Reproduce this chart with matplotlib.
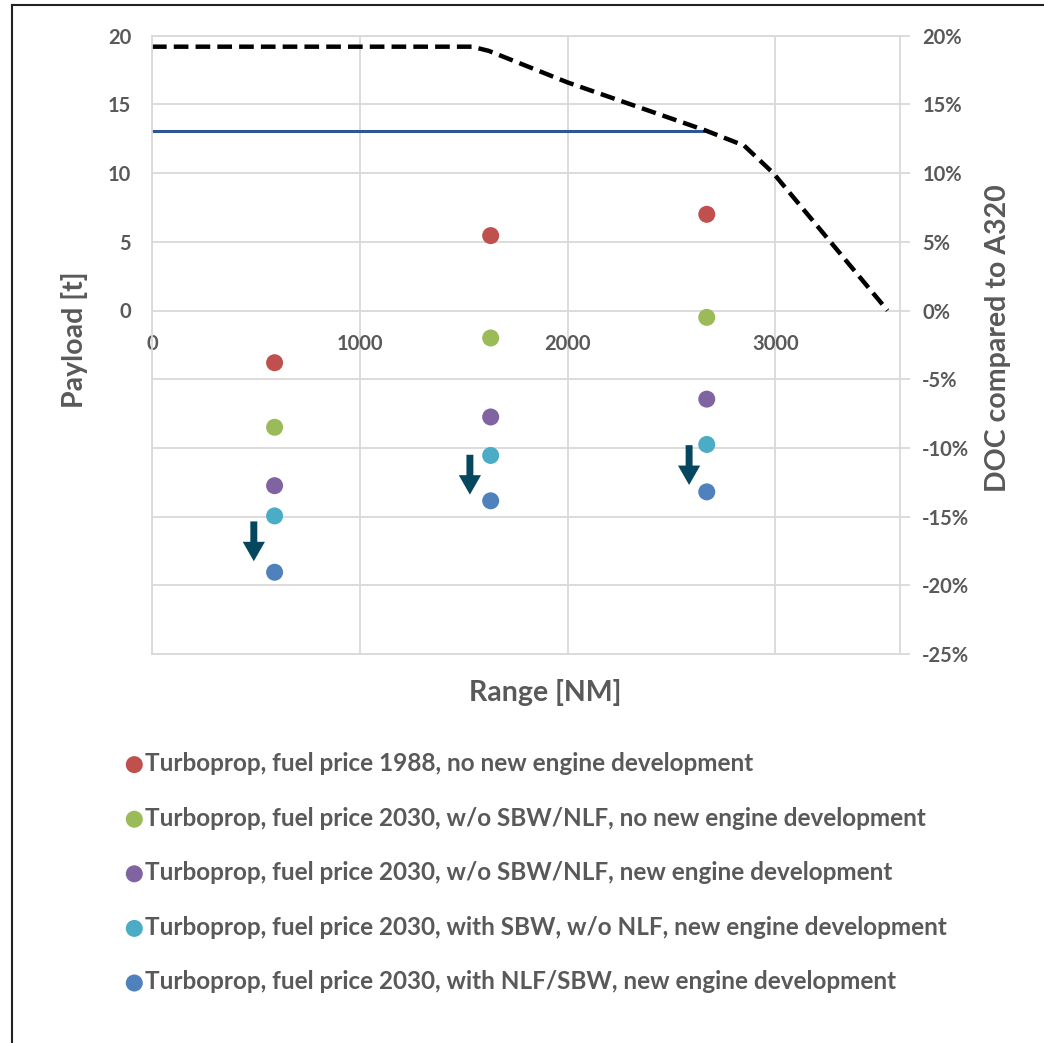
import matplotlib
matplotlib.use('Agg')
import matplotlib.pyplot as plt
from matplotlib.lines import Line2D

plt.rcParams['font.family'] = ['Lato', 'DejaVu Sans']
plt.rcParams['font.weight'] = 'bold'

TXT = '#595959'
GRID = '#D9D9D9'

# ---------------- data ----------------
range_ticks = [0, 1000, 2000, 3000]
payload_ticks = [0, 5, 10, 15, 20]
doc_ticks = [-25, -20, -15, -10, -5, 0, 5, 10, 15, 20]

# payload-range diagram (left axis, t)
pr_range = [0, 1540, 1620, 2000, 2665, 2850, 2990, 3540]
pr_payload = [19.2, 19.2, 18.9, 16.6, 13.1, 12.0, 10.0, 0.0]

# reference payload line
ref_range = [0, 2670]
ref_payload = [13.1, 13.1]

# DOC compared to A320 (right axis, %)
series_labels = [
    'Turboprop, fuel price 1988, no new engine development',
    'Turboprop, fuel price 2030, w/o SBW/NLF, no new engine development',
    'Turboprop, fuel price 2030, w/o SBW/NLF, new engine development',
    'Turboprop, fuel price 2030, with SBW, w/o NLF, new engine development',
    'Turboprop, fuel price 2030, with NLF/SBW, new engine development',
]
series_colors = ['#C0504D', '#9BBB59', '#8064A2', '#4BACC6', '#4F81BD']
series_range = [590, 1630, 2670]
doc_red = [-3.8, 5.45, 7.0]
doc_green = [-8.5, -2.0, -0.5]
doc_purple = [-12.75, -7.75, -6.45]
doc_cyan = [-14.95, -10.55, -9.75]
doc_blue = [-19.05, -13.85, -13.2]
doc_values = [doc_red, doc_green, doc_purple, doc_cyan, doc_blue]

# improvement arrows
arrow_range = [490, 1530, 2585]
arrow_start = [-15.35, -10.5, -9.8]
arrow_end = [-18.25, -13.4, -12.7]

# ---------------- figure ----------------
W, H = 1044, 1043
fig = plt.figure(figsize=(W / 100, H / 100), dpi=100)
fig.patch.set_facecolor('white')

left, right, top, bottom = 152 / W, 900 / W, 1 - 35.7 / H, 1 - 654 / H
ax = fig.add_axes([left, bottom, right - left, top - bottom])
ax2 = ax.twinx()

ax.set_xlim(0, 3600)
ax.set_ylim(-25, 20)
ax2.set_ylim(-25, 20)

# grid
ax.set_yticks(doc_ticks)
ax.set_yticklabels([str(t) if t in payload_ticks else '' for t in doc_ticks])
ax.set_xticks(range_ticks)
ax.set_xticklabels([str(t) for t in range_ticks])
ax.grid(True, color=GRID, lw=1.3, zorder=0)
ax.set_axisbelow(True)

for s in ax.spines.values():
    s.set_visible(False)
ax.spines['bottom'].set_position(('data', 0))
for s in ax2.spines.values():
    s.set_color(GRID)
    s.set_linewidth(1.3)

ax.tick_params(axis='y', length=0, pad=15, labelsize=14.5, labelcolor=TXT)
ax.tick_params(axis='x', length=0, pad=17, labelsize=14.5, labelcolor=TXT)

ax2.set_yticks(doc_ticks)
ax2.set_yticklabels([f'{t}%' for t in doc_ticks])
ax2.tick_params(axis='y', length=7, width=1.3, color=GRID, pad=9,
                labelsize=14.5, labelcolor=TXT)

# lines
ax.plot(pr_range, pr_payload, color='black', lw=3.2, ls=(0, (3.3, 1.6)),
        solid_capstyle='butt', dash_capstyle='butt', zorder=3)
ax.plot(ref_range, ref_payload, color='#2F5597', lw=2.2, zorder=2)

# scatter
handles = []
for lab, col, vals in zip(series_labels, series_colors, doc_values):
    h = ax2.scatter(series_range, vals, s=150, color=col, edgecolors='none',
                    zorder=4, label=lab)
    handles.append(h)

# arrows
for xr, y0, y1 in zip(arrow_range, arrow_start, arrow_end):
    ax2.annotate('', xy=(xr, y1), xytext=(xr, y0),
                 arrowprops=dict(arrowstyle='simple,head_length=14,head_width=16,tail_width=5',
                                 mutation_scale=1, color='#05475E', lw=0,
                                 shrinkA=0, shrinkB=0), zorder=5)

# axis titles
fig.text(75 / W, 1 - 340 / H, 'Payload [t]', rotation=90, ha='center', va='center',
         fontsize=20.5, color=TXT, fontweight='bold')
fig.text(998 / W, 1 - 338 / H, 'DOC compared to A320', rotation=90, ha='center',
         va='center', fontsize=20.5, color=TXT, fontweight='bold')
fig.text(545 / W, 1 - 692 / H, 'Range [NM]', ha='center', va='center',
         fontsize=20.5, color=TXT, fontweight='bold')

# legend
leg = fig.legend(handles=handles, labels=series_labels, loc='upper left',
                 bbox_to_anchor=(127 / W, 1 - 752 / H), frameon=False,
                 fontsize=17.5, labelcolor=TXT, handlelength=0.6,
                 handletextpad=0.15, labelspacing=1.3, borderpad=0,
                 borderaxespad=0, scatterpoints=1, markerscale=1.0)

# outer frame (top and left)
fig.add_artist(Line2D([12 / W, 12 / W], [1 - 5 / H, 0], transform=fig.transFigure,
                      color='#222222', lw=1.5))
fig.add_artist(Line2D([12 / W, 1], [1 - 5 / H, 1 - 5 / H], transform=fig.transFigure,
                      color='#222222', lw=1.5))

fig.savefig('out.png', dpi=100, facecolor='white')
